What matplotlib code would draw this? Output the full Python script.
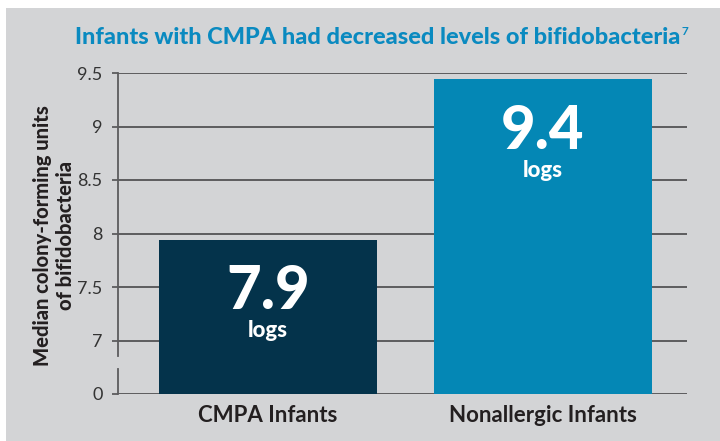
import matplotlib
matplotlib.use("Agg")
import matplotlib.pyplot as plt
from matplotlib import font_manager
from matplotlib.font_manager import weight_dict
from matplotlib.patches import Rectangle
from matplotlib.transforms import blended_transform_factory

# data
categories = ["CMPA Infants", "Nonallergic Infants"]
values = [7.94, 9.44]
value_labels = ["7.9", "9.4"]
tick_values = [6.5, 7, 7.5, 8, 8.5, 9, 9.5]
tick_labels = ["0", "7", "7.5", "8", "8.5", "9", "9.5"]

BG = "#d3d4d6"
BAR_COLORS = ["#04334b", "#0487b5"]
TITLE_COLOR = "#0a8ac0"
TEXT = "#231f20"
GRID = "#5c5c5e"
AXIS_FLOOR = 6.5  # the broken axis puts "0" here


def heavy_family(candidates, min_weight=800):
    """First installed family that has a face at least min_weight heavy."""
    for fam in candidates:
        for f in font_manager.fontManager.ttflist:
            w = f.weight if isinstance(f.weight, int) else weight_dict.get(f.weight, 400)
            if f.name == fam and w >= min_weight:
                return fam, w
    return "Lato", 700


HEAVY, HEAVY_W = heavy_family(["Lato", "Roboto", "Inter", "Open Sans", "Noto Sans"])

plt.rcParams["font.family"] = ["Lato", "DejaVu Sans"]

fig = plt.figure(figsize=(7.2, 4.41), dpi=100)
fig.patch.set_facecolor("white")
fig.patches.append(Rectangle((6 / 720, 0), 1, 1 - 8 / 441, transform=fig.transFigure,
                             facecolor=BG, edgecolor="none", zorder=-10))

ax = fig.add_axes([118 / 720, 47 / 441, 569 / 720, 321 / 441])
ax.set_facecolor("none")

x = list(range(len(categories)))
heights = [v - AXIS_FLOOR for v in values]
ax.bar(x, heights, bottom=AXIS_FLOOR, width=0.793, color=BAR_COLORS, zorder=3)

ax.set_xlim(-0.545, 1.524)
ax.set_ylim(AXIS_FLOOR, 9.5)

ax.set_yticks(tick_values)
ax.set_yticklabels(tick_labels)
ax.tick_params(axis="y", length=4, width=1.3, color=GRID, pad=7, labelsize=13,
               labelcolor="#333333")

ax.set_xticks(x)
ax.set_xticklabels(categories, fontsize=16, fontweight="bold", color=TEXT)
ax.tick_params(axis="x", length=0, pad=8)

ax.yaxis.grid(True, color=GRID, linewidth=1.4, zorder=1)
ax.set_axisbelow(True)
for s in ax.spines.values():
    s.set_visible(False)

# broken y axis line
tr = blended_transform_factory(ax.transAxes, ax.transData)
ax.plot([0, 0], [AXIS_FLOOR, 6.73], color=GRID, lw=1.3, transform=tr, clip_on=False, zorder=2)
ax.plot([0, 0], [6.855, 9.5], color=GRID, lw=1.3, transform=tr, clip_on=False, zorder=2)

for xi, v, lab in zip(x, values, value_labels):
    ax.annotate(lab, xy=(xi, v), xytext=(0, -37), textcoords="offset points",
                ha="center", va="center", fontsize=43, family=HEAVY, fontweight=HEAVY_W,
                color="white", zorder=5)
    ax.annotate("logs", xy=(xi, v), xytext=(0, -65.5), textcoords="offset points",
                ha="center", va="center", fontsize=16, family=HEAVY, fontweight=HEAVY_W,
                color="white", zorder=5)

title = fig.text(75 / 720, 1 - 38 / 441,
                 "Infants with CMPA had decreased levels of bifidobacteria",
                 ha="left", va="center", fontsize=16, family=HEAVY, fontweight=HEAVY_W,
                 color=TITLE_COLOR)
# stretch the title to the width it has in the reference (75 -> ~677 px)
fig.canvas.draw()
bb = title.get_window_extent()
title.set_fontsize(16 * (677 - 75) / bb.width)
ax.annotate("7", xy=(1, 1), xycoords=title, xytext=(0.5, 1), textcoords="offset points",
            ha="left", va="top", fontsize=8.5, fontweight="bold", color=TITLE_COLOR,
            annotation_clip=False)

fig.text(54 / 720, 1 - 236 / 441, "Median colony-forming units\nof bifidobacteria",
         rotation=90, ha="center", va="center", multialignment="center",
         fontsize=14.5, family=HEAVY, fontweight=HEAVY_W, color=TEXT, linespacing=1.2)

fig.savefig("out.png", dpi=100, facecolor=fig.get_facecolor())
